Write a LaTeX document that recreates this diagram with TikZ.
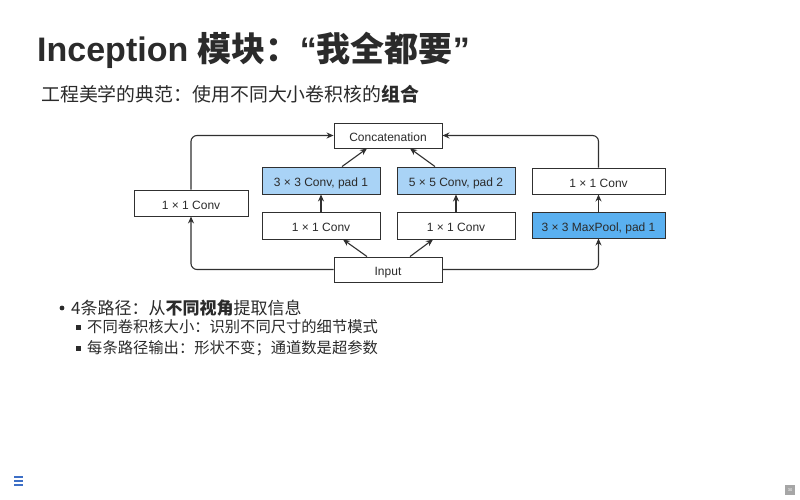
\documentclass[tikz,border=0pt]{standalone}
\usepackage{fontspec}
\setmainfont{Liberation Sans}
\newfontfamily\cjk{Noto Sans CJK SC}
\usetikzlibrary{arrows.meta}
\definecolor{ink}{HTML}{2B2B2B}
\definecolor{lineink}{HTML}{303030}
\definecolor{paleblue}{HTML}{A9D3F6}
\definecolor{poolblue}{HTML}{5AB0F0}
\definecolor{navblue}{HTML}{3D6FC6}
\begin{document}
\begin{tikzpicture}[x=1pt,y=-1pt,
  layer/.style={draw=lineink,line width=0.9pt,fill=white,inner sep=0pt,
    text height=12.4pt,text depth=0pt,
    font=\fontsize{12}{14}\selectfont,text=ink},
  conv/.style={layer,fill=paleblue},
  pool/.style={layer,fill=poolblue},
  flow/.style={draw=lineink,line width=1.1pt,rounded corners=6pt,
    -{Stealth[length=7pt,width=6pt]}},
  bullettext/.style={anchor=west,inner sep=0pt,text=ink,font=\cjk\fontsize{17}{19}\selectfont},
  subtext/.style={bullettext,font=\cjk\fontsize{15.3}{17}\selectfont}]
\useasboundingbox (0,0) rectangle (800,500);
\fill[white] (0,0) rectangle (800,500);

% title and subtitle
\node[anchor=base west,inner sep=0pt,text=ink] (title) at (37,62)
  {\fontsize{34}{38}\selectfont\bfseries Inception {\cjk\bfseries 模块：}“{\cjk\bfseries 我全都要}”};
\node[anchor=west,inner sep=0pt,text=ink] (subtitle) at (41,94)
  {\cjk\fontsize{18.9}{21}\selectfont 工程美学的典范：使用不同大小卷积核的{\bfseries 组合}};

% inception block
\node[layer,minimum width=108,minimum height=25] (concat) at (388,135.5) {Concatenation};
\node[layer,minimum width=114,minimum height=26] (left) at (191,203) {1 × 1 Conv};
\node[conv,minimum width=118,minimum height=27] (c3) at (321,180.5) {3 × 3 Conv, pad 1};
\node[conv,minimum width=118,minimum height=27] (c5) at (456,180.5) {5 × 5 Conv, pad 2};
\node[layer,minimum width=133,minimum height=26] (r1) at (598.5,181) {1 × 1 Conv};
\node[layer,minimum width=118,minimum height=27] (m1) at (321,225.5) {1 × 1 Conv};
\node[layer,minimum width=118,minimum height=27] (m2) at (456,225.5) {1 × 1 Conv};
\node[pool,minimum width=133,minimum height=26] (mp) at (598.5,225) {3 × 3 MaxPool, pad 1};
\node[layer,minimum width=108,minimum height=25] (input) at (388,269.5) {Input};

\draw[flow] (input.west) -| (left.south);
\draw[flow] (left.north) |- (concat.west);
\draw[flow] (input.east) -| (mp.south);
\draw[flow] (mp.north) -- (r1.south);
\draw[flow] (r1.north) |- (concat.east);
\draw[flow] ([xshift=-21]input.north) -- ([xshift=22]m1.south);
\draw[flow] ([xshift=22]input.north) -- ([xshift=-23]m2.south);
\draw[flow] (m1.north) -- (c3.south);
\draw[flow] (m2.north) -- (c5.south);
\draw[flow] ([xshift=21]c3.north) -- ([xshift=-21]concat.south);
\draw[flow] ([xshift=-21]c5.north) -- ([xshift=22]concat.south);

% bullet list
\fill[ink] (62,308) circle (2.4);
\node[bullettext] (b1) at (71,308) {4条路径：从{\bfseries 不同视角}提取信息};
\fill[ink] (75.5,324.5) rectangle (80.5,329.5);
\node[subtext] (b2) at (87,327) {不同卷积核大小：识别不同尺寸的细节模式};
\fill[ink] (75.5,345.5) rectangle (80.5,350.5);
\node[subtext] (b3) at (87,348) {每条路径输出：形状不变；通道数是超参数};

% navigation menu icon and page number
\draw[navblue,line width=1.3pt] (14,477) -- (23,477) (14,481) -- (23,481) (14,485) -- (23,485);
\node[fill=gray!70,minimum width=10,minimum height=10,inner sep=0pt,text=white,
  font=\fontsize{4}{4}\selectfont] (page) at (790,490) {30};
\end{tikzpicture}
\end{document}
